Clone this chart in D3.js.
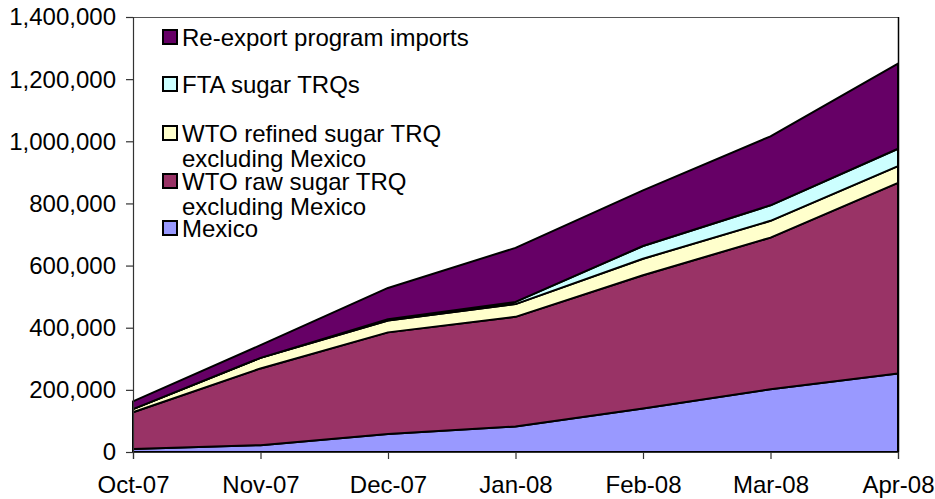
<!DOCTYPE html>
<html><head><meta charset="utf-8">
<script src="https://cdn.jsdelivr.net/npm/d3@7"></script>
<style>body{margin:0;background:#fff}svg{display:block;font-family:"Liberation Sans",Arial,sans-serif}</style>
</head><body><svg id="c" width="935" height="499"></svg>
<script>
const categories = ["Oct-07","Nov-07","Dec-07","Jan-08","Feb-08","Mar-08","Apr-08"];
const mexico   = [10000, 22000, 58000, 82000, 140000, 202000, 253000];
const rawTRQ   = [118000, 247000, 327000, 353000, 429000, 488000, 613000];
const refTRQ   = [10000, 34000, 38000, 41000, 53000, 54000, 54000];
const ftaTRQ   = [0, 0, 4000, 7000, 41000, 50000, 56000];
const reExport = [25000, 41000, 101000, 174000, 179000, 222000, 274000];
const yTicks = [0,200000,400000,600000,800000,1000000,1200000,1400000];
const seriesNames = ["Mexico","WTO raw sugar TRQ excluding Mexico","WTO refined sugar TRQ excluding Mexico","FTA sugar TRQs","Re-export program imports"];
const seriesColors = ["#9999FF","#993366","#FFFFCC","#CCFFFF","#660066"];
const seriesValues = [mexico, rawTRQ, refTRQ, ftaTRQ, reExport];

const svg = d3.select("#c");
const L = 133, R = 898, T = 17, B = 452;
const FS = "24px";
const x = d3.scalePoint().domain(categories).range([L, R]);
const y = d3.scaleLinear().domain([0, 1400000]).range([B, T]);

const rows = categories.map((c, i) => {
  const o = {cat: c};
  seriesNames.forEach((n, k) => o[n] = seriesValues[k][i]);
  return o;
});
const stack = d3.stack().keys(seriesNames)(rows);
const area = d3.area().x(d => x(d.data.cat)).y0(d => y(d[0])).y1(d => y(d[1]));

// plot frame
svg.append("line").attr("x1", L).attr("x2", R).attr("y1", T + 0.5).attr("y2", T + 0.5).attr("stroke", "#555").attr("stroke-width", 1);

svg.append("g").selectAll("path").data(stack).join("path")
  .attr("d", area)
  .attr("fill", (d, i) => seriesColors[i])
  .attr("stroke", "#000").attr("stroke-width", 2).attr("stroke-linejoin", "round");

svg.append("line").attr("x1", R + 0.5).attr("x2", R + 0.5).attr("y1", T).attr("y2", B).attr("stroke", "#000").attr("stroke-width", 1.5);

// axes
const yAxis = svg.append("g").attr("transform", `translate(${L},0)`)
  .call(d3.axisLeft(y).tickValues(yTicks).tickSize(7).tickPadding(10).tickFormat(d3.format(",")));
const xAxis = svg.append("g").attr("transform", `translate(0,${B})`)
  .call(d3.axisBottom(x).tickSize(7).tickPadding(17));
[yAxis, xAxis].forEach(g => {
  g.select(".domain").attr("stroke", "#333").attr("stroke-width", 1.2);
  g.selectAll(".tick line").attr("stroke", "#333").attr("stroke-width", 1.2);
  g.selectAll("text").attr("fill", "#000").style("font-size", FS).style("font-family", '"Liberation Sans",Arial,sans-serif');
});
yAxis.selectAll(".tick text").attr("dy", "0.33em");
xAxis.selectAll(".tick text").attr("dy", "0.71em");

// legend
const legendItems = [
  {k: 4, lines: ["Re-export program imports"], y: 46},
  {k: 3, lines: ["FTA sugar TRQs"], y: 93},
  {k: 2, lines: ["WTO refined sugar TRQ", "excluding Mexico"], y: 142},
  {k: 1, lines: ["WTO raw sugar TRQ", "excluding Mexico"], y: 190},
  {k: 0, lines: ["Mexico"], y: 237}
];
const lg = svg.append("g");
legendItems.forEach(it => {
  lg.append("rect").attr("x", 163).attr("y", it.y - 16).attr("width", 14).attr("height", 14)
    .attr("fill", seriesColors[it.k]).attr("stroke", "#000").attr("stroke-width", 2);
  it.lines.forEach((t, j) => {
    lg.append("text").attr("x", 182).attr("y", it.y + j * 25).text(t)
      .style("font-size", FS).attr("fill", "#000");
  });
});
</script></body></html>
